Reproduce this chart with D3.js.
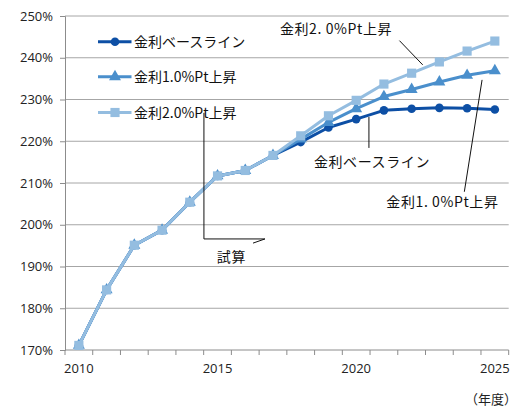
<!DOCTYPE html>
<html>
<head>
<meta charset="utf-8">
<script src="https://cdn.jsdelivr.net/npm/d3@7/dist/d3.min.js"></script>
<style>
  html, body { margin: 0; padding: 0; background: #fff; }
  svg { display: block; }
  .tick text { font-family: "Open Sans", "Liberation Sans", sans-serif; }
</style>
</head>
<body>
<svg id="chart" width="520" height="410"></svg>
<script>
// Fiscal years (categories)
const years = [2010, 2011, 2012, 2013, 2014, 2015, 2016, 2017,
               2018, 2019, 2020, 2021, 2022, 2023, 2024, 2025];
const yearLabels = [2010, 2015, 2020, 2025];
const yTicks = [170, 180, 190, 200, 210, 220, 230, 240, 250];

// Series values (%)
const baseline = [171.1, 184.4, 195.1, 198.7, 205.4, 211.7, 213.0, 216.6,
                  219.8, 223.3, 225.3, 227.4, 227.8, 228.0, 227.9, 227.6];
const plus1pt  = [171.1, 184.4, 195.1, 198.7, 205.4, 211.7, 213.0, 216.6,
                  220.5, 224.5, 227.8, 230.7, 232.4, 234.2, 235.8, 236.9];
const plus2pt  = [171.1, 184.4, 195.1, 198.7, 205.4, 211.7, 213.0, 216.6,
                  221.3, 226.1, 229.8, 233.7, 236.3, 239.0, 241.6, 244.0];

const seriesNames = ["金利ベースライン", "金利1.0%Pt上昇", "金利2.0%Pt上昇"];
const seriesColors = ["#0d4fa5", "#4a8fcc", "#94bde0"];
const seriesShapes = [d3.symbolCircle, d3.symbolTriangle, d3.symbolSquare];
const seriesSizes = [58, 62, 84];
const seriesValues = [baseline, plus1pt, plus2pt];

const svg = d3.select("#chart");
const plotLeft = 65, plotRight = 508.7, plotTop = 16, plotBottom = 350;
const CJK = '"Noto Sans CJK JP", "Noto Sans", sans-serif';

const x = d3.scaleBand().domain(years).range([plotLeft, plotRight]).padding(0);
const bw = x.bandwidth();
const cx = yr => x(yr) + bw / 2;
// continuous year position (used for annotations)
const xf = yr => plotLeft + (yr - years[0] + 0.5) * bw;
const y = d3.scaleLinear().domain([170, 250]).range([plotBottom, plotTop]);

// horizontal gridlines
svg.append("g").selectAll("line").data(yTicks.filter(t => t > 170)).join("line")
  .attr("x1", plotLeft).attr("x2", plotRight)
  .attr("y1", d => y(d)).attr("y2", d => y(d))
  .attr("stroke", "#a6a6a6").attr("stroke-width", 1);

// y axis
const yAxis = svg.append("g").attr("transform", `translate(${plotLeft},0)`)
  .call(d3.axisLeft(y).tickValues(yTicks).tickSize(5).tickPadding(7)
        .tickFormat(d => d + "%"));
yAxis.select(".domain").attr("stroke", "#8c8c8c");
yAxis.selectAll(".tick line").attr("stroke", "#8c8c8c");
yAxis.selectAll(".tick text").attr("font-size", 13).attr("fill", "#222");

// x axis baseline with category boundary ticks
svg.append("line").attr("x1", plotLeft).attr("x2", plotRight)
  .attr("y1", plotBottom).attr("y2", plotBottom).attr("stroke", "#8c8c8c");
svg.append("g").selectAll("line").data(years.concat(["end"])).join("line")
  .attr("x1", d => d === "end" ? plotRight : x(d))
  .attr("x2", d => d === "end" ? plotRight : x(d))
  .attr("y1", plotBottom).attr("y2", plotBottom + 5)
  .attr("stroke", "#8c8c8c");
const xAxis = svg.append("g").attr("transform", `translate(0,${plotBottom})`)
  .call(d3.axisBottom(x).tickValues(yearLabels).tickSize(0).tickPadding(14));
xAxis.select(".domain").remove();
xAxis.selectAll(".tick text").attr("font-size", 13).attr("fill", "#222");

svg.append("text").attr("x", 517).attr("y", 404).attr("text-anchor", "end")
  .attr("font-family", CJK).attr("font-size", 13).attr("fill", "#222")
  .text("（年度）");

// series lines and markers
const line = d3.line().x((d, i) => cx(years[i])).y(d => y(d));
seriesValues.forEach((vals, s) => {
  const g = svg.append("g");
  g.append("path").datum(vals).attr("d", line)
    .attr("fill", "none").attr("stroke", seriesColors[s])
    .attr("stroke-width", 3).attr("stroke-linejoin", "round");
  g.selectAll("path.m").data(vals).join("path").attr("class", "m")
    .attr("transform", (d, i) => `translate(${cx(years[i])},${y(d)})`)
    .attr("d", d3.symbol().type(seriesShapes[s]).size(seriesSizes[s]))
    .attr("fill", seriesColors[s]);
});

// legend
const legend = svg.append("g");
const legendY = [41.7, 76.7, 112.5];
seriesNames.forEach((name, s) => {
  const ly = legendY[s];
  legend.append("line").attr("x1", 98).attr("x2", 131.5)
    .attr("y1", ly).attr("y2", ly)
    .attr("stroke", seriesColors[s]).attr("stroke-width", 3);
  legend.append("path")
    .attr("transform", `translate(115,${ly})`)
    .attr("d", d3.symbol().type(seriesShapes[s]).size(seriesSizes[s]))
    .attr("fill", seriesColors[s]);
  legend.append("text").attr("x", 134).attr("y", ly).attr("dy", "0.36em")
    .attr("font-family", CJK).attr("font-size", 14).attr("fill", "#111")
    .text(name);
});

// annotations (positioned in data units)
const ann = svg.append("g").attr("stroke", "#111").attr("stroke-width", 1).attr("fill", "none");
ann.append("line").attr("x1", xf(2021.56)).attr("y1", y(244.1))
  .attr("x2", xf(2022.40)).attr("y2", y(238.3));
ann.append("line").attr("x1", xf(2020.46)).attr("y1", y(225.8))
  .attr("x2", xf(2020.46)).attr("y2", y(218.4));
ann.append("line").attr("x1", xf(2024.54)).attr("y1", y(234.7))
  .attr("x2", xf(2023.90)).attr("y2", y(207.9));
// bracket marking the projection period
ann.append("polyline").attr("points", [
  [xf(2014.51), y(226.8)], [xf(2014.51), y(196.6)], [xf(2016.71), y(196.6)]
].map(p => p.join(",")).join(" "));
ann.append("line").attr("x1", xf(2016.28)).attr("y1", y(195.6))
  .attr("x2", xf(2016.71)).attr("y2", y(196.6));

const annText = (t, xv, yv, anchor) => svg.append("text")
  .attr("x", xf(xv)).attr("y", y(yv)).attr("dy", "0.36em")
  .attr("text-anchor", anchor)
  .attr("font-family", CJK).attr("font-size", 14).attr("fill", "#111")
  .attr("letter-spacing", 0.6).text(t);
annText("金利2. 0%Pt上昇", 2017.25, 246.9, "start");
annText("金利ベースライン", 2020.57, 215.1, "middle");
annText("金利1. 0%Pt上昇", 2023.11, 205.5, "middle");
annText("試算", 2015.5, 192.3, "middle");
</script>
</body>
</html>
